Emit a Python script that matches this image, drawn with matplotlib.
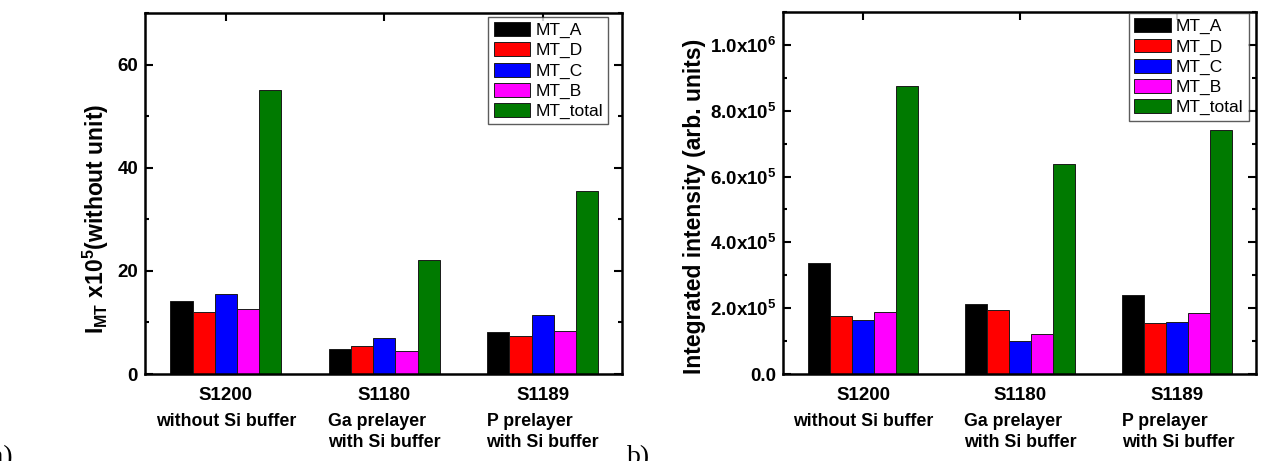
import numpy as np
import matplotlib
matplotlib.use('Agg')
import matplotlib.pyplot as plt
from matplotlib.ticker import MultipleLocator, FuncFormatter
import matplotlib.transforms as mtransforms

plt.rcParams['font.family'] = ['Liberation Sans', 'DejaVu Sans']
plt.rcParams['mathtext.fontset'] = 'custom'
plt.rcParams['mathtext.rm'] = 'Liberation Sans:bold'
plt.rcParams['mathtext.bf'] = 'Liberation Sans:bold'
plt.rcParams['mathtext.it'] = 'Liberation Sans:bold'
plt.rcParams['mathtext.default'] = 'bf'

# data
samples = ['S1200', 'S1180', 'S1189']
sub_labels = ['without Si buffer', 'Ga prelayer\nwith Si buffer', 'P prelayer\nwith Si buffer']
series = ['MT_A', 'MT_D', 'MT_C', 'MT_B', 'MT_total']
colors = ['#000000', '#ff0000', '#0000ff', '#ff00ff', '#007a00']

# panel a: I_MT x10^5
mt_a_left = [14.1, 4.8, 8.1]
mt_d_left = [12.1, 5.5, 7.4]
mt_c_left = [15.6, 6.9, 11.5]
mt_b_left = [12.7, 4.5, 8.3]
mt_total_left = [55.0, 22.1, 35.4]

# panel b: integrated intensity
mt_a_right = [3.38e5, 2.12e5, 2.39e5]
mt_d_right = [1.75e5, 1.93e5, 1.56e5]
mt_c_right = [1.65e5, 1.01e5, 1.57e5]
mt_b_right = [1.89e5, 1.23e5, 1.84e5]
mt_total_right = [8.74e5, 6.38e5, 7.42e5]

left_data = [mt_a_left, mt_d_left, mt_c_left, mt_b_left, mt_total_left]
right_data = [mt_a_right, mt_d_right, mt_c_right, mt_b_right, mt_total_right]

W, H = 1268, 461
fig = plt.figure(figsize=(W / 100, H / 100), dpi=100)


def px_axes(l, r, t, b):
    return fig.add_axes([l / W, 1 - b / H, (r - l) / W, (b - t) / H])


def draw_panel(ax, data, ylim, ymajor, yminor, ylabel, label_xy, leg_anchor, yfmt=None):
    x = np.arange(1, len(samples) + 1)
    width = 0.14
    for i, (vals, name, c) in enumerate(zip(data, series, colors)):
        ax.bar(x + (i - 2) * width, vals, width, color=c, edgecolor='#1a1a1a',
               linewidth=0.7, label=name, zorder=2)
    ax.set_xlim(0.49, 3.5)
    ax.set_ylim(*ylim)
    ax.yaxis.set_major_locator(MultipleLocator(ymajor))
    ax.yaxis.set_minor_locator(MultipleLocator(yminor))
    if yfmt is not None:
        ax.yaxis.set_major_formatter(FuncFormatter(yfmt))
    ax.set_xticks(x)
    ax.set_xticklabels(samples, fontsize=13.5, fontweight='bold')
    for lab in ax.get_yticklabels():
        lab.set_fontweight('bold')
    ax.tick_params(axis='both', which='both', direction='in', width=1.5,
                   top=True, right=True, labelsize=13.5)
    ax.tick_params(axis='x', pad=9)
    ax.tick_params(axis='y', pad=5)
    ax.tick_params(axis='both', which='major', length=6)
    ax.tick_params(axis='both', which='minor', length=3)
    for s in ax.spines.values():
        s.set_linewidth(1.8)
    ax.set_ylabel(ylabel, fontsize=16.5, fontweight='bold')
    ax.yaxis.set_label_coords(*label_xy)

    trans = mtransforms.blended_transform_factory(ax.transData, fig.transFigure)
    ax.text(1, 1 - 421 / H, sub_labels[0], transform=trans, ha='center',
            va='center', fontsize=12.8, fontweight='bold')
    for xi, lab in zip(x[1:], sub_labels[1:]):
        ax.text(xi - 0.355, 1 - 432 / H, lab, transform=trans, ha='left',
                va='center', fontsize=12.8, fontweight='bold', linespacing=1.25)

    leg = ax.legend(loc='upper right', bbox_to_anchor=leg_anchor, fontsize=12.5,
                    frameon=True, fancybox=False, edgecolor='#333333',
                    handlelength=2.1, handleheight=0.85, labelspacing=0.24,
                    borderaxespad=0.0, borderpad=0.3, handletextpad=0.3)
    leg.get_frame().set_linewidth(1.0)


ax1 = px_axes(145, 622, 13, 374)
draw_panel(ax1, left_data, (0, 70), 20, 10,
           r'I$_{\mathrm{MT}}$ x10$^5$(without unit)',
           (-0.072, 0.43), (0.971, 0.989))


def sci_fmt(v, pos):
    if v == 0:
        return '0.0'
    e = int(np.floor(np.log10(abs(v))))
    m = v / 10 ** e
    return r'%.1fx10$^{%d}$' % (m, e)


ax2 = px_axes(783, 1256, 12, 374)
draw_panel(ax2, right_data, (0, 1.1e6), 2e5, 1e5,
           'Integrated intensity (arb. units)',
           (-0.163, 0.464), (0.985, 0.997), sci_fmt)

# panel labels
fig.text(13 / W, 1 - 470 / H, 'a)', ha='right', va='bottom', fontsize=20, family='Liberation Serif')
fig.text(627 / W, 1 - 470 / H, 'b)', ha='left', va='bottom', fontsize=20, family='Liberation Serif')

fig.savefig('out.png', dpi=100)
